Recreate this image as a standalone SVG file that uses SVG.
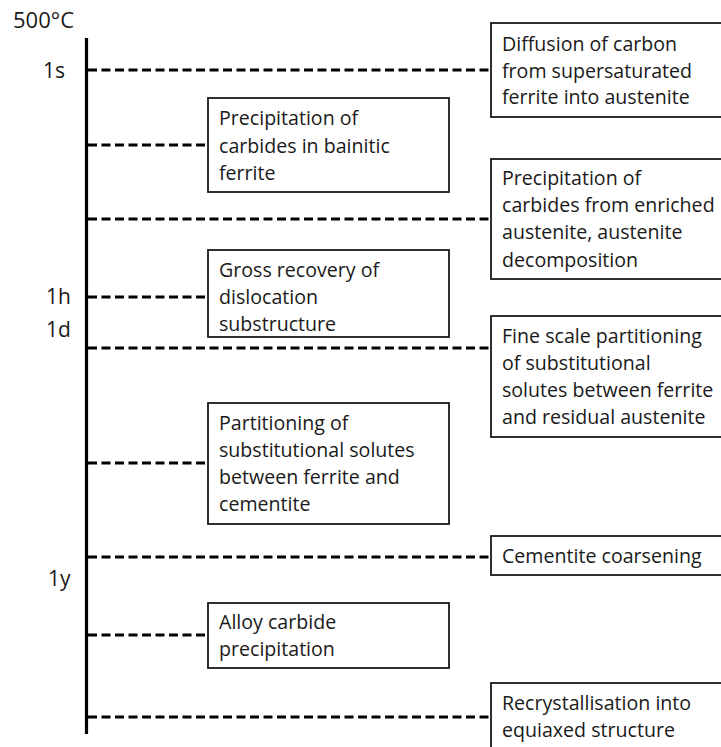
<svg xmlns="http://www.w3.org/2000/svg" width="721" height="747" viewBox="0 0 721 747">
<style>
text{font-family:"Open Sans","Liberation Sans",sans-serif;font-size:19.6px;fill:#1a1a1a;font-variant-ligatures:none}
.lab{font-size:21px}
.title{font-size:22px}
.box{fill:#fff;stroke:#1a1a1a;stroke-width:1.8}
.dash{stroke:#000;stroke-width:2.8;stroke-dasharray:9 4.5;fill:none}
.axis{stroke:#000;stroke-width:3.2}
</style>
<rect width="721" height="747" fill="#fff"/>
<g id="axis">
<line class="axis" x1="86.5" y1="38" x2="86.5" y2="734"/>
<text class="title" x="13" y="28">500°C</text>
<text class="lab" x="43" y="78">1s</text>
<text class="lab" x="46" y="304">1h</text>
<text class="lab" x="46" y="337">1d</text>
<text class="lab" x="48" y="586">1y</text>
</g>
<g id="connectors">
<line class="dash" x1="88" y1="70" x2="491" y2="70"/>
<line class="dash" x1="88" y1="145" x2="208" y2="145"/>
<line class="dash" x1="88" y1="219" x2="491" y2="219"/>
<line class="dash" x1="88" y1="297" x2="208" y2="297"/>
<line class="dash" x1="88" y1="348" x2="491" y2="348"/>
<line class="dash" x1="88" y1="463" x2="208" y2="463"/>
<line class="dash" x1="88" y1="557" x2="491" y2="557"/>
<line class="dash" x1="88" y1="635" x2="208" y2="635"/>
<line class="dash" x1="88" y1="717" x2="491" y2="717"/>
</g>
<g id="n1">
<rect class="box" x="491" y="23" width="240" height="94"/>
<text x="502" y="51">Diffusion of carbon</text>
<text x="502" y="78">from supersaturated</text>
<text x="502" y="104">ferrite into austenite</text>
</g>
<g id="n2">
<rect class="box" x="208" y="98" width="241" height="94"/>
<text x="219" y="125">Precipitation of</text>
<text x="219" y="153">carbides in bainitic</text>
<text x="219" y="180">ferrite</text>
</g>
<g id="n3">
<rect class="box" x="491" y="159" width="240" height="120"/>
<text x="502" y="185">Precipitation of</text>
<text x="502" y="212">carbides from enriched</text>
<text x="502" y="239">austenite, austenite</text>
<text x="502" y="267">decomposition</text>
</g>
<g id="n4">
<rect class="box" x="208" y="250" width="241" height="87"/>
<text x="219" y="277">Gross recovery of</text>
<text x="219" y="304">dislocation</text>
<text x="219" y="331">substructure</text>
</g>
<g id="n5">
<rect class="box" x="491" y="316" width="240" height="121"/>
<text x="502" y="343">Fine scale partitioning</text>
<text x="502" y="370">of substitutional</text>
<text x="502" y="397">solutes between ferrite</text>
<text x="502" y="424">and residual austenite</text>
</g>
<g id="n6">
<rect class="box" x="208" y="403" width="241" height="121"/>
<text x="219" y="430">Partitioning of</text>
<text x="219" y="457">substitutional solutes</text>
<text x="219" y="484">between ferrite and</text>
<text x="219" y="511">cementite</text>
</g>
<g id="n7">
<rect class="box" x="491" y="536" width="240" height="39"/>
<text x="502" y="563">Cementite coarsening</text>
</g>
<g id="n8">
<rect class="box" x="208" y="603" width="241" height="65"/>
<text x="219" y="629">Alloy carbide</text>
<text x="219" y="656">precipitation</text>
</g>
<g id="n9">
<rect class="box" x="491" y="683" width="240" height="80"/>
<text x="502" y="710">Recrystallisation into</text>
<text x="502" y="737">equiaxed structure</text>
</g>
</svg>
